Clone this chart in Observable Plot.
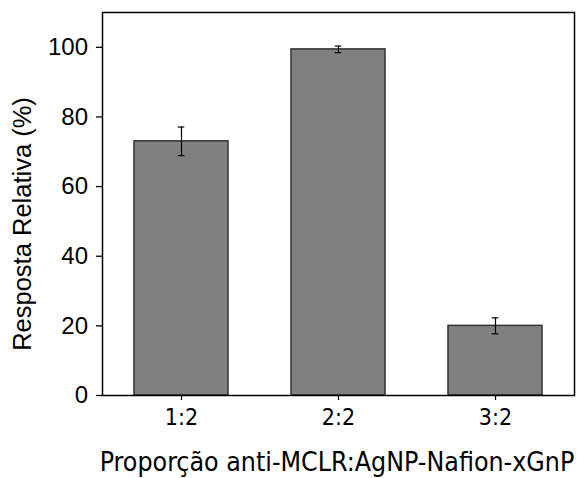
<!DOCTYPE html>
<html>
<head>
<meta charset="utf-8">
<script src="https://cdn.jsdelivr.net/npm/d3@7"></script>
<script src="https://cdn.jsdelivr.net/npm/@observablehq/plot@0.6"></script>
<style>
  body { margin: 0; background: #fff; }
  #chart svg { display: block; }
</style>
</head>
<body>
<div id="chart"></div>
<script>
// Relative response for each antibody : AgNP-Nafion-xGnP ratio
const ratios = ["1:2", "2:2", "3:2"];
const response = [73.0, 99.4, 20.0];
const errors = [4.1, 0.95, 2.3];
const yTicks = [0, 20, 40, 60, 80, 100];
const xTitle = "Proporção anti-MCLR:AgNP-Nafion-xGnP";
const yTitle = "Resposta Relativa (%)";

const rows = ratios.map((r, i) => ({
  ratio: r,
  value: response[i],
  lo: response[i] - errors[i],
  hi: response[i] + errors[i]
}));

const sans = "'Liberation Sans', Arial, sans-serif";
const tahomaLike = "'DejaVu Sans Condensed', 'DejaVu Sans', Verdana, sans-serif";

const chart = Plot.plot({
  width: 579,
  height: 478,
  marginLeft: 102,
  marginRight: 5,
  marginTop: 12,
  marginBottom: 83,
  style: { background: "white", color: "black", fontFamily: sans, fontSize: "24px" },
  x: { domain: ratios, paddingInner: 0.4, paddingOuter: 0.2 },
  y: { domain: [0, 110] },
  marks: [
    Plot.barY(rows, { x: "ratio", y: "value", fill: "#808080", stroke: "#333", strokeWidth: 1.5 }),
    // error bars: stem plus short caps
    Plot.ruleX(rows, { x: "ratio", y1: "lo", y2: "hi", stroke: "black", strokeWidth: 1.2 }),
    Plot.tickY(rows, { x: "ratio", y: "hi", stroke: "black", strokeWidth: 1.2, insetLeft: 43.7, insetRight: 43.7 }),
    Plot.tickY(rows, { x: "ratio", y: "lo", stroke: "black", strokeWidth: 1.2, insetLeft: 43.7, insetRight: 43.7 }),
    Plot.frame({ stroke: "black", strokeWidth: 1.5 }),
    // axis tick marks (labels drawn separately for font control)
    Plot.axisY({ ticks: yTicks, tickSize: 6, tickFormat: () => "", label: null, strokeWidth: 1.3 }),
    Plot.axisX({ tickSize: 5, tickFormat: () => "", label: null, strokeWidth: 1.3 }),
    Plot.text(yTicks, { y: d => d, text: d => String(d), frameAnchor: "left", dx: -14.5, textAnchor: "end", lineAnchor: "middle", fontSize: 24, fontFamily: sans }),
    Plot.text(ratios, { x: d => d, text: d => d, frameAnchor: "bottom", dy: 13, lineAnchor: "top", fontSize: 23, fontFamily: tahomaLike }),
    Plot.text([yTitle], { text: d => d, frameAnchor: "left", dx: -80, dy: 20, rotate: -90, textAnchor: "middle", lineAnchor: "middle", fontSize: 25.5, fontFamily: sans }),
    Plot.text([xTitle], { text: d => d, frameAnchor: "bottom", dx: -1.5, dy: 75, textAnchor: "middle", lineAnchor: "bottom", fontSize: 26.5, fontFamily: tahomaLike })
  ]
});

document.getElementById("chart").append(chart);
</script>
</body>
</html>
